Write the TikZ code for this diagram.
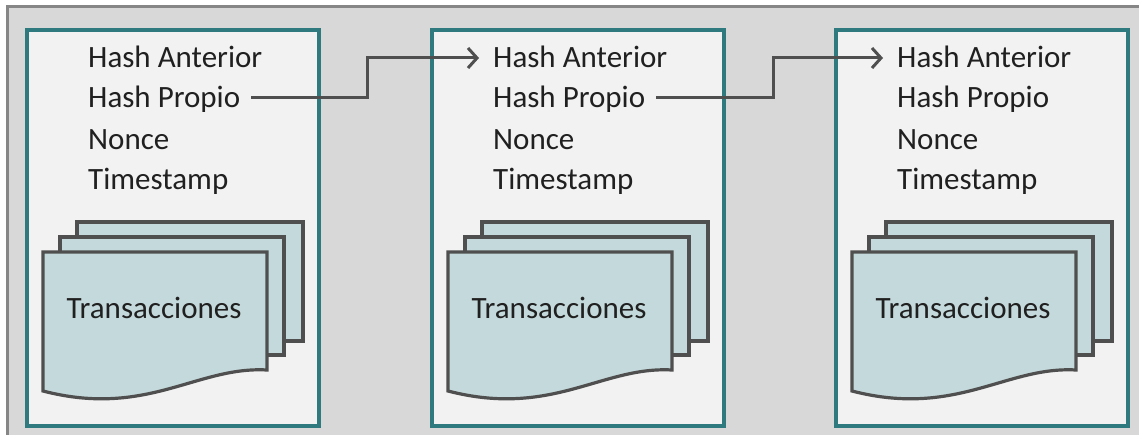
\documentclass[tikz,border=0pt]{standalone}
\usepackage{fontspec}
\setmainfont{Carlito}
\usetikzlibrary{arrows.meta,calc}
\definecolor{bg}{HTML}{D8D8D8}
\definecolor{frameline}{HTML}{868686}
\definecolor{blockfill}{HTML}{F2F2F2}
\definecolor{teal}{HTML}{2E7A7F}
\definecolor{docfill}{HTML}{C4D9DB}
\definecolor{docline}{HTML}{4F4F4F}
\definecolor{txt}{HTML}{202020}
\tikzset{
  blockbox/.style={draw=teal, line width=3.6pt, fill=blockfill},
  docpage/.style={draw=docline, line width=3.2pt, fill=docfill, line join=miter},
  field/.style={anchor=west, inner sep=0pt, text height=27pt, text depth=7pt, font=\fontsize{31}{31}\selectfont, text=txt},
  doclabel/.style={anchor=base, inner sep=0pt, font=\fontsize{31}{31}\selectfont, text=txt},
  conn/.style={draw=docline, line width=3pt, shorten <=11pt, shorten >=14pt, -{Straight Barb[length=9pt,width=20pt,line width=3pt]}}
}
\begin{document}
\begin{tikzpicture}[x=1pt,y=-1pt]
\useasboundingbox (0,0) rectangle (1139,435);
\fill[white] (0,0) rectangle (1139,435);
\fill[bg] (7,7) rectangle (1150,445);
\draw[frameline, line width=3pt] (7,445) -- (7,7) -- (1150,7);
\foreach \b/\x in {1/27, 2/432, 3/836} {
  \draw[blockbox] (\x,30) rectangle ++(292,396);
  \node[field] (ha\b) at (\x+61,58) {Hash Anterior};
  \node[field] (hp\b) at (\x+61,98) {Hash Propio};
  \node[field] (no\b) at (\x+61,140) {Nonce};
  \node[field] (ts\b) at (\x+61,180) {Timestamp};
  \draw[docpage] (\x+50,222) rectangle (\x+276,341);
  \draw[docpage] (\x+33,237) rectangle (\x+257,355);
  \draw[docpage] (\x+16,252) -- (\x+240,252) -- (\x+240,370)
     .. controls (\x+170,366) and (\x+120,418) .. (\x+16,391) -- cycle;
  \node[doclabel] (tr\b) at (\x+127,318) {Transacciones};
}
\coordinate (k1) at (367,0);
\coordinate (k2) at (773,0);
\draw[conn] (hp1.east) -| (k1 |- ha2.west) -- (ha2.west);
\draw[conn] (hp2.east) -| (k2 |- ha3.west) -- (ha3.west);
\end{tikzpicture}
\end{document}
